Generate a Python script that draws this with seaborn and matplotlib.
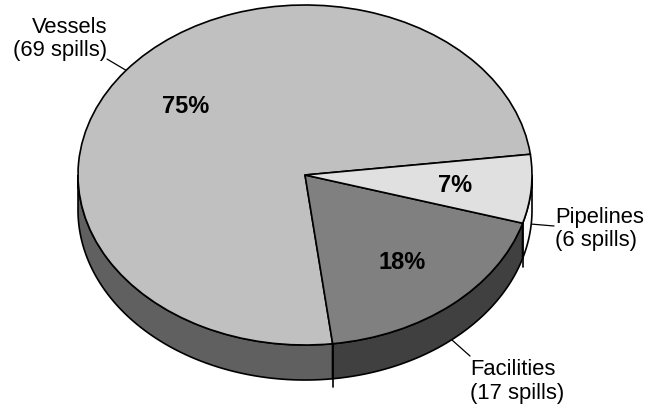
import numpy as np
import matplotlib
matplotlib.use("Agg")
import matplotlib.pyplot as plt
import seaborn as sns

# Spill sources and counts
categories = ["Vessels", "Facilities", "Pipelines"]
spills = [69, 17, 6]
labels = ["Vessels\n(69 spills)", "Facilities\n(17 spills)", "Pipelines\n(6 spills)"]

top_colors = ["#c0c0c0", "#808080", "#e0e0e0"]
side_colors = ["#606060", "#404040", "#fafafa"]

sns.set_theme(style="white")
plt.rcParams["font.family"] = ["Liberation Sans", "DejaVu Sans"]

fig = plt.figure(figsize=(6.46, 4.06), dpi=100)
ax = fig.add_axes([0, 0, 1, 1])

START = 7.0       # degrees, counterclockwise
DEPTH = 0.206     # thickness of the disc, in y units
LW = 1.2

values = np.asarray(spills, dtype=float)
fracs = values / values.sum()
edges = START + 360.0 * np.concatenate([[0], np.cumsum(fracs)])

# Side walls: only the front half (180..360 deg) is visible
for i in range(len(values)):
    t1, t2 = edges[i], edges[i + 1]
    for shift in (0.0, 360.0):
        lo = max(t1, 180.0 + shift)
        hi = min(t2, 360.0 + shift)
        if hi <= lo:
            continue
        t = np.radians(np.linspace(lo, hi, 120))
        xs = np.concatenate([np.cos(t), np.cos(t[::-1])])
        ys = np.concatenate([np.sin(t), np.sin(t[::-1]) - DEPTH])
        ax.fill(xs, ys, facecolor=side_colors[i], edgecolor="black",
                linewidth=LW, zorder=1)

# Small drop line under the visible slice boundary
for t in edges:
    tm = t % 360.0
    if 180.0 < tm < 360.0:
        r = np.radians(tm)
        ax.plot([np.cos(r), np.cos(r)], [np.sin(r), np.sin(r) - DEPTH - 0.05],
                color="black", linewidth=LW, zorder=1)

# Top face
wedges, _, autotexts = ax.pie(
    values, startangle=START, counterclock=True, colors=top_colors,
    autopct="%1.0f%%", pctdistance=0.665,
    wedgeprops=dict(edgecolor="black", linewidth=LW),
    textprops=dict(fontsize=17, fontweight="bold", color="black"),
)
for w in wedges:
    w.set_zorder(2)
for txt in autotexts:
    txt.set_zorder(3)

# Outer labels with leader lines
mids = np.radians((edges[:-1] + edges[1:]) / 2.0)
label_pos = [(-0.872, 0.805), (0.727, -1.21), (1.101, -0.313)]
leader_end = [(-0.872, 0.682), (0.727, -1.065), (1.097, -0.300)]
aligns = ["right", "left", "left"]
for i, m in enumerate(mids):
    x0, y0 = np.cos(m), np.sin(m)
    if y0 < 0:
        y0 -= DEPTH
    ax.plot([x0, leader_end[i][0]], [y0, leader_end[i][1]],
            color="black", linewidth=0.9, zorder=0.5)
    ax.text(label_pos[i][0], label_pos[i][1], labels[i], ha=aligns[i],
            va="center", fontsize=15.8, linespacing=1.15, color="black")

ax.set_aspect("auto")
ax.set_xlim(-305 / 227, (646 - 305) / 227)
ax.set_ylim(-(406 - 176) / 170, 176 / 170)
ax.axis("off")

fig.savefig("out.png", dpi=100, facecolor="white")
